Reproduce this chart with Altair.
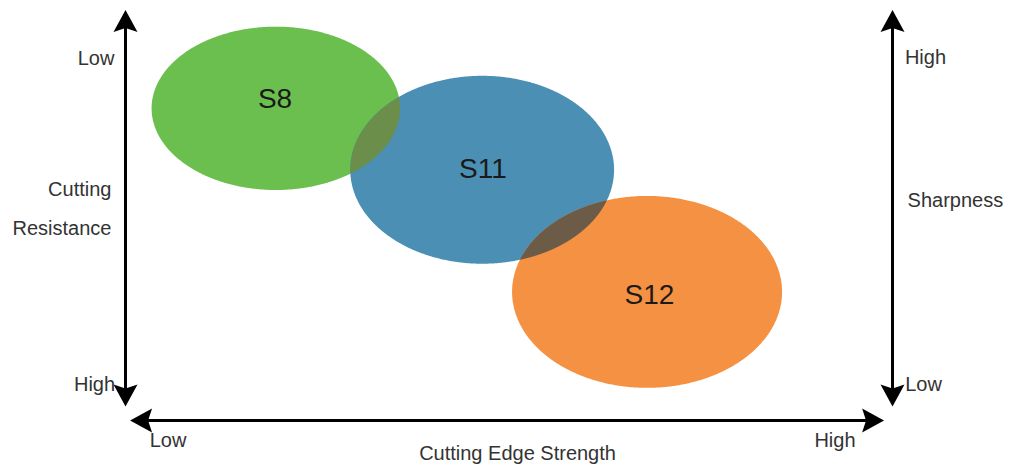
import numpy as np
import pandas as pd
import altair as alt

# ---- data (in chart units: x = Cutting Edge Strength 0..10, y = 0..10 upwards) ----
names = ["S8", "S11", "S12"]
center_x = [1.96, 4.65, 6.80]
center_y = [7.52, 5.97, 2.89]
radius_x = [1.62, 1.72, 1.76]
radius_y = [2.06, 2.37, 2.42]
fill_colors = ["#6abf4e", "#4b8fb4", "#f59142"]
label_x = [1.95, 4.66, 6.83]
label_y = [7.53, 5.76, 2.59]

overlap_pairs = [(0, 1), (1, 2)]
overlap_colors = ["#6b8f4b", "#6b5b47"]

# arrows: tip 1 -> tip 2 (double headed)
arrow_x1 = [0.0, 10.0, 0.06]
arrow_y1 = [0.0, 0.0, -0.353]
arrow_x2 = [0.0, 10.0, 9.89]
arrow_y2 = [10.0, 10.0, -0.353]

ann_text = ["Low", "High", "Cutting", "Resistance", "Low", "High",
            "Cutting Edge Strength", "High", "Low", "Sharpness"]
ann_x = [-0.385, -0.404, -0.183, -0.183, 0.554, 9.25, 5.111, 10.43, 10.404, 10.82]
ann_y = [8.613, 0.391, 5.309, 4.325, -1.021, -1.021, -1.36, 8.638, 0.391, 5.031]
ann_align = ["center", "center", "right", "right", "center", "center",
             "center", "center", "center", "center"]

# ---- layout ----
W, H = 995, 456
PXX, PXY = 76.7, 39.65
XDOM = [-1.532, -1.532 + W / PXX]
YDOM = [10.05 - H / PXY, 10.05]

xs = alt.Scale(domain=XDOM, nice=False, zero=False)
ys = alt.Scale(domain=YDOM, nice=False, zero=False)

layers = []

# ellipses
for i, n in enumerate(names):
    t = np.linspace(0, np.pi, 361)
    df = pd.DataFrame({
        "x": center_x[i] - radius_x[i] * np.cos(t),
        "lo": center_y[i] - radius_y[i] * np.sin(t),
        "hi": center_y[i] + radius_y[i] * np.sin(t),
    })
    layers.append(
        alt.Chart(df).mark_area(color=fill_colors[i], opacity=1).encode(
            x=alt.X("x:Q", scale=xs, axis=None),
            y=alt.Y("lo:Q", scale=ys, axis=None),
            y2="hi:Q",
        )
    )

def half(i, x):
    v = 1 - ((x - center_x[i]) / radius_x[i]) ** 2
    return radius_y[i] * np.sqrt(np.clip(v, 0, None))

# overlaps
for k, (a, b) in enumerate(overlap_pairs):
    x0 = max(center_x[a] - radius_x[a], center_x[b] - radius_x[b])
    x1 = min(center_x[a] + radius_x[a], center_x[b] + radius_x[b])
    x = np.linspace(x0, x1, 1501)
    lo = np.maximum(center_y[a] - half(a, x), center_y[b] - half(b, x))
    hi = np.minimum(center_y[a] + half(a, x), center_y[b] + half(b, x))
    m = hi >= lo
    df = pd.DataFrame({"x": x[m], "lo": lo[m], "hi": hi[m]})
    layers.append(
        alt.Chart(df).mark_area(color=overlap_colors[k], opacity=1).encode(
            x=alt.X("x:Q", scale=xs, axis=None),
            y=alt.Y("lo:Q", scale=ys, axis=None),
            y2="hi:Q",
        )
    )

# ellipse labels
lab = pd.DataFrame({"name": names, "x": label_x, "y": label_y})
layers.append(
    alt.Chart(lab).mark_text(font="Liberation Sans", fontSize=28, color="#1a1a1a",
                             baseline="alphabetic", align="center").encode(
        x=alt.X("x:Q", scale=xs, axis=None),
        y=alt.Y("y:Q", scale=ys, axis=None),
        text="name:N",
    )
)

# arrows
SHAFT_INSET = 14
HEAD_OFF = 12
rules, heads = [], []
for i in range(len(arrow_x1)):
    dxp = (arrow_x2[i] - arrow_x1[i]) * PXX
    dyp = (arrow_y2[i] - arrow_y1[i]) * PXY
    L = np.hypot(dxp, dyp)
    ux, uy = dxp / L, dyp / L  # unit in pixel space (y up)
    rules.append({
        "x": arrow_x1[i] + ux * SHAFT_INSET / PXX,
        "y": arrow_y1[i] + uy * SHAFT_INSET / PXY,
        "x2": arrow_x2[i] - ux * SHAFT_INSET / PXX,
        "y2": arrow_y2[i] - uy * SHAFT_INSET / PXY,
    })
    for tx, ty, sx, sy in [(arrow_x2[i], arrow_y2[i], ux, uy),
                           (arrow_x1[i], arrow_y1[i], -ux, -uy)]:
        ang = np.degrees(np.arctan2(sx, sy)) % 360
        heads.append({
            "x": tx - sx * HEAD_OFF / PXX,
            "y": ty - sy * HEAD_OFF / PXY,
            "angle": float(ang),
        })

layers.append(
    alt.Chart(pd.DataFrame(rules)).mark_rule(color="black", strokeWidth=3).encode(
        x=alt.X("x:Q", scale=xs, axis=None),
        y=alt.Y("y:Q", scale=ys, axis=None),
        x2="x2:Q",
        y2="y2:Q",
    )
)
layers.append(
    alt.Chart(pd.DataFrame(heads)).mark_point(
        shape="M0,-1 L1,0.83 L0,0.5 L-1,0.83 Z", size=576, filled=True,
        color="black", opacity=1, strokeWidth=0,
    ).encode(
        x=alt.X("x:Q", scale=xs, axis=None),
        y=alt.Y("y:Q", scale=ys, axis=None),
        angle=alt.Angle("angle:Q", scale=None),
    )
)

# annotations
ann = pd.DataFrame({"t": ann_text, "x": ann_x, "y": ann_y, "a": ann_align})
for al in ["center", "right"]:
    layers.append(
        alt.Chart(ann[ann.a == al]).mark_text(
            font="Liberation Sans", fontSize=20, color="#333333",
            baseline="alphabetic", align=al,
        ).encode(
            x=alt.X("x:Q", scale=xs, axis=None),
            y=alt.Y("y:Q", scale=ys, axis=None),
            text="t:N",
        )
    )

chart = alt.layer(*layers).properties(
    width=W, height=H, padding=0, autosize=alt.AutoSizeParams(type="none"),
).configure_view(stroke=None)

chart.save("out.html", embed_options={"renderer": "svg", "actions": False})
